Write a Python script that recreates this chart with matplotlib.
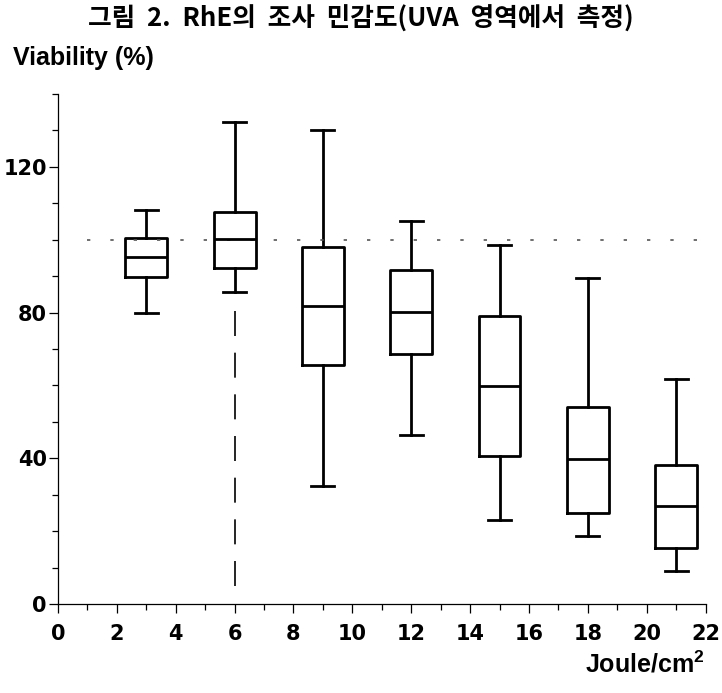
import numpy as np
import matplotlib
matplotlib.use("Agg")
import matplotlib.pyplot as plt
from matplotlib.ticker import MultipleLocator

plt.rcParams["font.family"] = ["Liberation Sans", "DejaVu Sans"]
plt.rcParams["mathtext.fontset"] = "custom"
plt.rcParams["mathtext.rm"] = "Liberation Sans"
plt.rcParams["mathtext.bf"] = "Liberation Sans:bold"

# data (UVA dose in J/cm2, viability in %)
doses = [3, 6, 9, 12, 15, 18, 21]
whisker_low = [80.0, 85.7, 32.4, 46.4, 23.0, 18.7, 9.0]
q1 = [89.8, 92.3, 65.7, 68.7, 40.7, 25.0, 15.4]
median = [95.3, 100.3, 81.9, 80.2, 59.9, 39.8, 26.9]
q3 = [100.5, 107.7, 98.0, 91.8, 79.1, 54.1, 38.2]
whisker_high = [108.2, 132.4, 130.0, 105.2, 98.6, 89.6, 61.8]

control_level = 100
ref_dose = 6
ref_span = [5, 81]

title_words = ["그림", "2.", "RhE의", "조사", "민감도(UVA", "영역에서", "측정)"]

stats = []
for lo, a, m, b, hi in zip(whisker_low, q1, median, q3, whisker_high):
    stats.append(dict(whislo=lo, q1=a, med=m, q3=b, whishi=hi, fliers=[]))

fig = plt.figure(figsize=(7.22, 6.93), dpi=100)
ax = fig.add_axes([0.0803, 0.1284, 0.897, 0.736])

lw = 2.0
line = dict(color="black", lw=lw)
ax.bxp(stats, positions=doses, widths=1.42, capwidths=0.78,
       showfliers=False, boxprops=line, medianprops=line,
       whiskerprops=line, capprops=line, manage_ticks=False)

# dotted control line and dashed reference line
ax.plot([1, 22], [control_level, control_level], color="#555555", lw=1.2,
        dashes=(2, 12))
ax.plot([ref_dose, ref_dose], ref_span, color="black", lw=1.2,
        dashes=(15, 10))

ax.set_xlim(0, 22)
ax.set_ylim(0, 140)
for s in ["top", "right"]:
    ax.spines[s].set_visible(False)
ax.spines["left"].set_linewidth(0.9)
ax.spines["bottom"].set_linewidth(0.9)

ax.xaxis.set_major_locator(MultipleLocator(2))
ax.xaxis.set_minor_locator(MultipleLocator(1))
ax.yaxis.set_major_locator(MultipleLocator(40))
ax.yaxis.set_minor_locator(MultipleLocator(10))
ax.tick_params(which="major", direction="out", length=6.5, width=0.9,
               labelsize=15)
ax.tick_params(which="minor", direction="out", length=4, width=0.9)
ax.tick_params(axis="y", pad=1.5)
ax.tick_params(axis="x", pad=8)
for lab in ax.get_xticklabels() + ax.get_yticklabels():
    lab.set_fontweight("bold")
    lab.set_family("DejaVu Sans")

fig.text(0.5, 0.973, "  ".join(title_words), ha="center", va="center",
         fontsize=18.5, fontweight="bold",
         family=["Noto Sans CJK KR", "DejaVu Sans"])
fig.text(0.018, 0.906, "Viability (%)", ha="left", va="baseline",
         fontsize=18, fontweight="bold")
fig.text(0.9765, 0.0303, r"Joule/cm$^{\mathbf{2}}$", ha="right",
         va="baseline", fontsize=18, fontweight="bold")

fig.savefig("out.png", dpi=100, facecolor="white")
